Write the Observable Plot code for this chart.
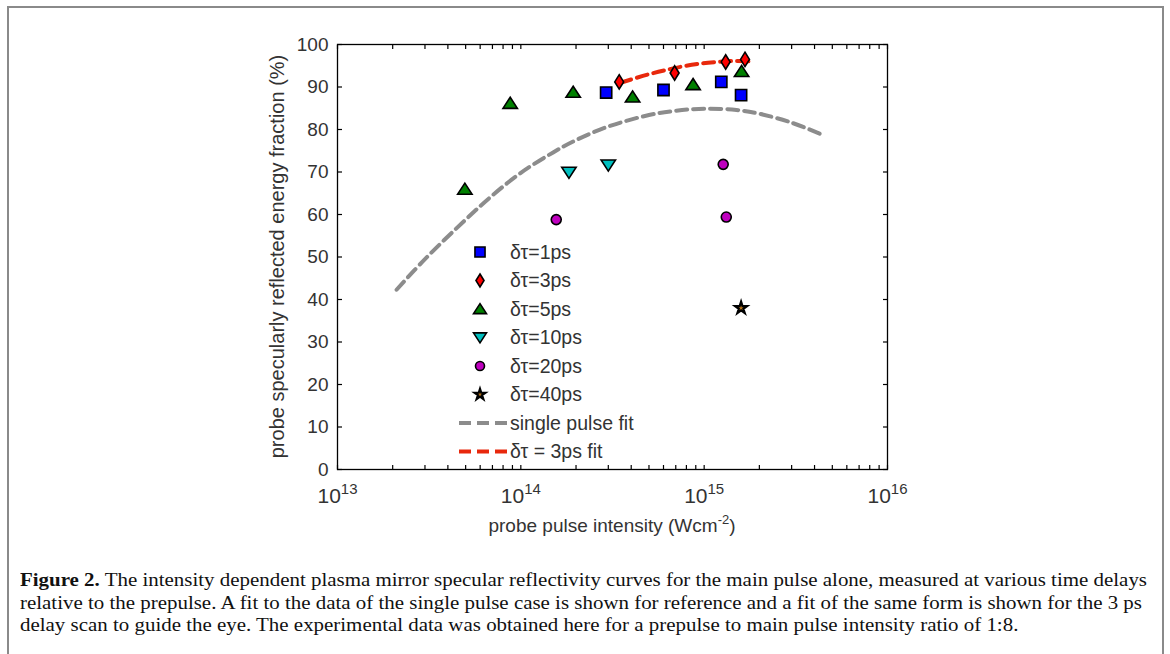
<!DOCTYPE html>
<html>
<head>
<meta charset="utf-8">
<script src="https://cdn.jsdelivr.net/npm/d3@7"></script>
<script src="https://cdn.jsdelivr.net/npm/@observablehq/plot@0.6"></script>
<style>
html,body{margin:0;padding:0;background:#fff;}
#page{position:relative;width:1170px;height:654px;overflow:hidden;background:#fff;}
#border{position:absolute;left:7px;top:6px;width:1157px;height:700px;border:2px solid #8a8a8a;border-bottom:none;box-sizing:border-box;}
#chart{position:absolute;left:0;top:0;}
#caption{position:absolute;left:20px;top:569px;font-family:"Liberation Serif","Times New Roman",serif;font-size:19.5px;line-height:22.5px;color:#111;transform-origin:0 0;white-space:nowrap;}
#caption .ln{display:block;}
#caption .ln span{display:inline-block;}
</style>
</head>
<body>
<div id="page">
  <div id="border"></div>
  <div id="chart"></div>
  <div id="caption">
    <div class="ln"><span id="l1"><b>Figure 2.</b> The intensity dependent plasma mirror specular reflectivity curves for the main pulse alone, measured at various time delays</span></div>
    <div class="ln"><span>relative to the prepulse. A fit to the data of the single pulse case is shown for reference and a fit of the same form is shown for the 3 ps</span></div>
    <div class="ln"><span>delay scan to guide the eye. The experimental data was obtained here for a prepulse to main pulse intensity ratio of 1:8.</span></div>
  </div>
</div>
<script>
// ---------- data ----------
const seriesNames = ["δτ=1ps", "δτ=3ps", "δτ=5ps", "δτ=10ps", "δτ=20ps", "δτ=40ps"];
const fitNames = ["single pulse fit", "δτ = 3ps fit"];

const dt1_x = [2.92e14, 6.0e14, 1.24e15, 1.59e15];
const dt1_y = [88.7, 89.3, 91.2, 88.1];
const dt3_x = [3.44e14, 6.9e14, 1.31e15, 1.67e15];
const dt3_y = [91.2, 93.3, 95.9, 96.5];
const dt5_x = [4.95e13, 8.75e13, 1.93e14, 4.07e14, 8.7e14, 1.60e15];
const dt5_y = [66.0, 86.2, 88.8, 87.7, 90.6, 93.7];
const dt10_x = [1.83e14, 3.0e14];
const dt10_y = [69.9, 71.6];
const dt20_x = [1.56e14, 1.27e15, 1.32e15];
const dt20_y = [58.8, 71.8, 59.4];
const dt40_x = [1.59e15];
const dt40_y = [38.0];

const singleFit_x = [2.1e13, 3e13, 5e13, 7e13, 1e14, 1.5e14, 2e14, 3e14, 5e14, 7e14, 1e15, 1.5e15, 2e15, 3e15, 4.5e15];
const singleFit_y = [42.3, 49.5, 58.8, 64.5, 69.8, 74.6, 77.5, 80.7, 83.4, 84.4, 84.9, 84.6, 83.7, 81.6, 78.6];
const fit3_x = [3.5e14, 5e14, 6.5e14, 8e14, 1.05e15, 1.4e15, 1.85e15];
const fit3_y = [91.0, 93.0, 94.2, 95.0, 95.7, 96.1, 96.0];

const xMajorTicks = [1e13, 1e14, 1e15, 1e16];
const yTicks = [0, 10, 20, 30, 40, 50, 60, 70, 80, 90, 100];
const minorMultipliers = [2, 3, 4, 5, 6, 7, 8, 9];

const xAllTicks = [];
for (const d of xMajorTicks) { xAllTicks.push(d); if (d < 1e16) for (const m of minorMultipliers) xAllTicks.push(d * m); }

// ---------- symbols ----------
const rad = s => Math.sqrt(s / Math.PI);
const symSquare = {draw(c, s) { const r = rad(s); c.moveTo(-r, -r); c.lineTo(r, -r); c.lineTo(r, r); c.lineTo(-r, r); c.closePath(); }};
const symDiamond = {draw(c, s) { const r = rad(s), w = r * 0.62; c.moveTo(0, -r); c.lineTo(w, 0); c.lineTo(0, r); c.lineTo(-w, 0); c.closePath(); }};
const symTriUp = {draw(c, s) { const r = rad(s); c.moveTo(0, -0.82 * r); c.lineTo(r, 0.72 * r); c.lineTo(-r, 0.72 * r); c.closePath(); }};
const symTriDown = {draw(c, s) { const r = rad(s); c.moveTo(0, 0.82 * r); c.lineTo(r, -0.72 * r); c.lineTo(-r, -0.72 * r); c.closePath(); }};
const symCircle = {draw(c, s) { const r = rad(s); c.moveTo(r, 0); c.arc(0, 0, r, 0, 2 * Math.PI); c.closePath(); }};
const symStar = {draw(c, s) { d3.symbolStar.draw(c, s * 1.1); }};

const styles = [
  {sym: symSquare, r: 5.6, fill: "#0000ff", sw: 1.6},
  {sym: symDiamond, r: 7.2, fill: "#ff0000", sw: 1.6},
  {sym: symTriUp, r: 7.2, fill: "#008000", sw: 1.6},
  {sym: symTriDown, r: 7.2, fill: "#00bfbf", sw: 1.6},
  {sym: symCircle, r: 5.0, fill: "#bf00bf", sw: 1.6},
  {sym: symStar, r: 3.6, fill: "#b8741a", sw: 2.2}
];
const seriesX = [dt1_x, dt3_x, dt5_x, dt10_x, dt20_x, dt40_x];
const seriesY = [dt1_y, dt3_y, dt5_y, dt10_y, dt20_y, dt40_y];

const grayColor = "#8c8c8c", redColor = "#e8280c";

// ---------- layout ----------
const W = 1170, H = 545;
const frameL = 337, frameR = 887, frameT = 44, frameB = 469;

const dotMarks = seriesX.map((xs, i) => Plot.dot(xs, {
  x: xs, y: seriesY[i], symbol: styles[i].sym, r: styles[i].r,
  fill: styles[i].fill, stroke: "#000", strokeWidth: styles[i].sw
}));

const chart = Plot.plot({
  width: W, height: H,
  marginLeft: frameL, marginRight: W - frameR, marginTop: frameT, marginBottom: H - frameB,
  style: {fontFamily: "'Liberation Sans', Arial, sans-serif", fontSize: "19px", color: "#333", background: "transparent", overflow: "visible"},
  x: {type: "log", domain: [1e13, 1e16]},
  y: {domain: [0, 100]},
  marks: [
    Plot.axisX(xAllTicks, {anchor: "bottom", tickSize: 4, dy: -4, fill: "none", label: null, stroke: "#000", strokeWidth: 1.2}),
    Plot.axisX(xAllTicks, {anchor: "top", tickSize: 4, dy: 4, fill: "none", label: null, stroke: "#000", strokeWidth: 1.2}),
    Plot.axisY(yTicks, {anchor: "left", tickSize: 5, dx: 5, fill: "none", label: null, stroke: "#000", strokeWidth: 1.2}),
    Plot.axisY(yTicks, {anchor: "right", tickSize: 5, dx: -5, fill: "none", label: null, stroke: "#000", strokeWidth: 1.2}),
    Plot.axisX(xMajorTicks, {anchor: "bottom", tickSize: 0, tickPadding: 19, tickFormat: d => String(Math.round(Math.log10(d))), label: null, fill: "#333"}),
    Plot.axisY(yTicks, {anchor: "left", tickSize: 0, tickPadding: 9, label: null, fill: "#333"}),
    Plot.frame({stroke: "#000", strokeWidth: 1.3}),
    Plot.line(singleFit_x, {x: singleFit_x, y: singleFit_y, stroke: grayColor, strokeWidth: 4, strokeDasharray: "11,6", curve: "catmull-rom"}),
    Plot.line(fit3_x, {x: fit3_x, y: fit3_y, stroke: redColor, strokeWidth: 4, strokeDasharray: "11,6", curve: "catmull-rom"}),
    ...dotMarks
  ]
});
document.getElementById("chart").appendChild(chart);

// ---------- post-processing: superscripts, labels, legend ----------
const svg = d3.select(chart);
svg.selectAll('g[aria-label="x-axis tick label"]').attr("font-size", "21px");
svg.selectAll('g[aria-label="x-axis tick label"] text').each(function () {
  const e = this.textContent;
  const t = d3.select(this);
  t.attr("font-size", "21px");
  t.text("10");
  t.append("tspan").attr("dy", "-0.6em").attr("font-size", "15px").text(e);
});

const xl = svg.append("text")
  .attr("x", (frameL + frameR) / 2).attr("y", 532)
  .attr("text-anchor", "middle").attr("fill", "#333")
  .attr("font-family", "'Liberation Sans', Arial, sans-serif").attr("font-size", "19px");
xl.append("tspan").text("probe pulse intensity (Wcm");
xl.append("tspan").attr("dy", "-8").attr("font-size", "13px").text("-2");
xl.append("tspan").attr("dy", "8").text(")");

svg.append("text")
  .attr("transform", `translate(284,${(frameT + frameB) / 2}) rotate(-90)`)
  .attr("text-anchor", "middle").attr("fill", "#333")
  .attr("font-family", "'Liberation Sans', Arial, sans-serif").attr("font-size", "20px")
  .text("probe specularly reflected energy fraction (%)");

const leg = svg.append("g").attr("font-family", "'Liberation Sans', Arial, sans-serif").attr("font-size", "19.5px").attr("fill", "#333").attr("text-anchor", "start");
const row0 = 252, rowStep = 28.5;
seriesNames.forEach((name, i) => {
  const y = row0 + i * rowStep;
  const sz = Math.PI * Math.pow(styles[i].r * 0.9, 2);
  leg.append("path")
    .attr("transform", `translate(480,${y})`)
    .attr("d", d3.symbol().type(styles[i].sym).size(sz)())
    .attr("fill", styles[i].fill).attr("stroke", "#000").attr("stroke-width", styles[i].sw);
  leg.append("text").attr("x", 510).attr("y", y).attr("dy", "0.35em").attr("text-anchor", "start").text(name);
});
[grayColor, redColor].forEach((col, j) => {
  const y = row0 + (6 + j) * rowStep;
  leg.append("line").attr("x1", 459).attr("x2", 507).attr("y1", y).attr("y2", y)
    .attr("stroke", col).attr("stroke-width", 4).attr("stroke-dasharray", "12,6");
  leg.append("text").attr("x", 510).attr("y", y).attr("dy", "0.35em").attr("text-anchor", "start").text(fitNames[j]);
});

// ---------- caption width fit ----------
const l1 = document.getElementById("l1");
const w1 = l1.getBoundingClientRect().width;
document.getElementById("caption").style.transform = `scaleX(${1127 / w1})`;
</script>
</body>
</html>
